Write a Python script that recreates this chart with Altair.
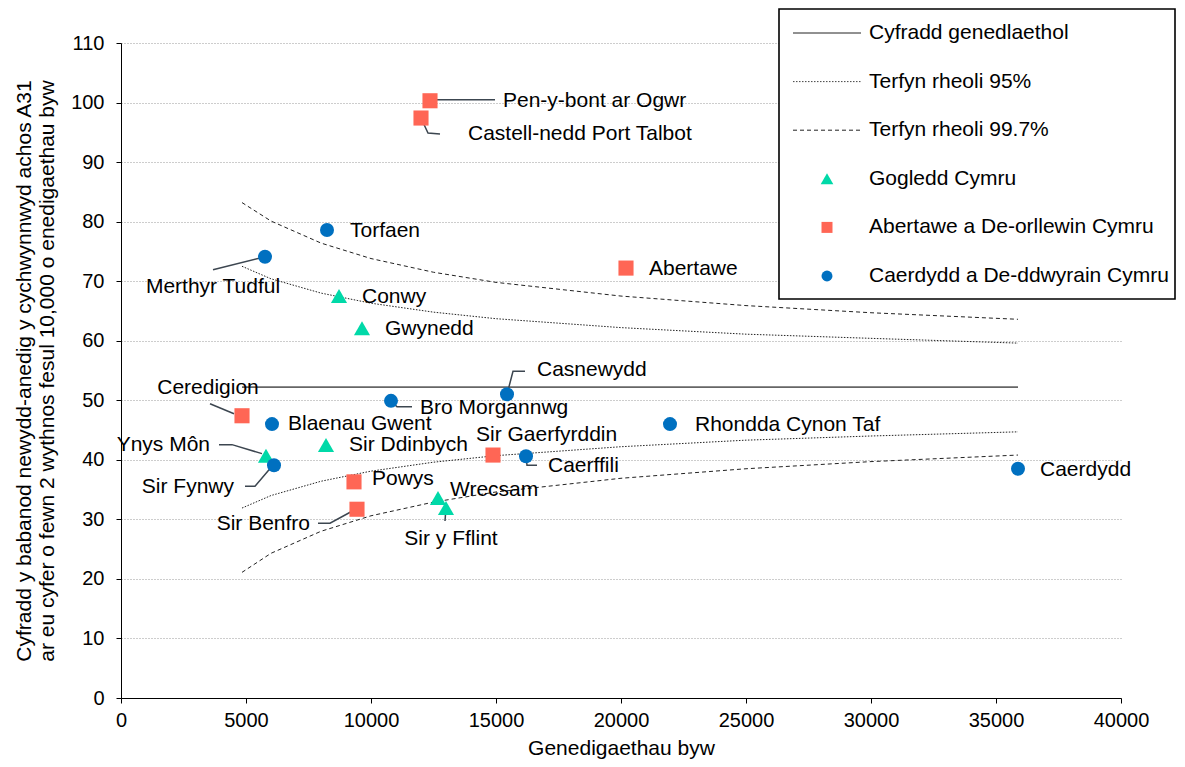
import altair as alt
import pandas as pd

# ---------------- data ----------------
names = ["Pen-y-bont ar Ogwr", "Castell-nedd Port Talbot", "Torfaen", "Merthyr Tudful",
         "Abertawe", "Conwy", "Gwynedd", "Casnewydd", "Ceredigion", "Bro Morgannwg",
         "Blaenau Gwent", "Rhondda Cynon Taf", "Sir Ddinbych", "Ynys Môn", "Sir Fynwy",
         "Sir Gaerfyrddin", "Caerffili", "Caerdydd", "Powys", "Sir Benfro", "Wrecsam",
         "Sir y Fflint"]
births = [12360, 12000, 8240, 5760, 20200, 8720, 9640, 15440, 4840, 10800,
          6040, 21960, 8200, 5800, 6120, 14880, 16200, 35880, 9320, 9440, 12680, 13000]
rates = [100.3, 97.4, 78.6, 74.1, 72.2, 67.5, 62.1, 51.0, 47.4, 49.9,
         46.0, 46.0, 42.5, 40.7, 39.1, 40.8, 40.6, 38.5, 36.3, 31.7, 33.6, 31.9]
N = "Gogledd Cymru"
S = "Abertawe a De-orllewin Cymru"
C = "Caerdydd a De-ddwyrain Cymru"
regions = [S, S, C, C, S, N, N, C, S, C, C, C, N, N, C, S, C, C, S, S, N, N]

region_order = [N, S, C]
region_colors = ["#00D9A8", "#FF6655", "#0070C0"]
region_shapes = ["triangle-up", "square", "circle"]
region_sizes = [260, 196, 165]

nat_rate = 52.2
limit_births = [4840, 6000, 8000, 10000, 12500, 15000, 20000, 25000, 30000, 35880]
upper95 = [72.5, 70.4, 68.0, 66.3, 64.8, 63.7, 62.2, 61.1, 60.4, 59.6]
lower95 = [31.9, 34.0, 36.4, 38.1, 39.6, 40.7, 42.2, 43.3, 44.0, 44.7]
upper997 = [83.2, 80.1, 76.4, 73.8, 71.5, 69.8, 67.5, 65.9, 64.7, 63.6]
lower997 = [21.1, 24.3, 28.0, 30.6, 32.9, 34.6, 36.9, 38.5, 39.7, 40.8]

legend_labels = ["Cyfradd genedlaethol", "Terfyn rheoli 95%", "Terfyn rheoli 99.7%",
                 N, S, C]

x_title = "Genedigaethau byw"
y_title = ["Cyfradd y babanod newydd-anedig y cychwynnwyd achos A31",
           "ar eu cyfer o fewn 2 wythnos fesul 10,000 o enedigaethau byw"]

# ---------------- layout (annotation placement) ----------------
W, H = 1000, 655
XMAX, YMAX = 40000, 110
XU = XMAX / W   # data units per pixel
YU = YMAX / H

# label offsets in pixels from the marker: (dx, dy, align)
label_pos = {
    "Pen-y-bont ar Ogwr": (73, 0, "left"),
    "Castell-nedd Port Talbot": (47, 16, "left"),
    "Torfaen": (23, 1, "left"),
    "Merthyr Tudful": (-52, 30, "center"),
    "Abertawe": (23, 1, "left"),
    "Conwy": (23, 1, "left"),
    "Gwynedd": (23, 1, "left"),
    "Casnewydd": (30, -24, "left"),
    "Ceredigion": (-34, -28, "center"),
    "Bro Morgannwg": (29, 7, "left"),
    "Blaenau Gwent": (16, 0, "left"),
    "Rhondda Cynon Taf": (25, 1, "left"),
    "Sir Ddinbych": (23, 0, "left"),
    "Ynys Môn": (-56, -11, "right"),
    "Sir Fynwy": (-40, 22, "right"),
    "Sir Gaerfyrddin": (-17, -20, "left"),
    "Caerffili": (22, 10, "left"),
    "Caerdydd": (22, 1, "left"),
    "Powys": (18, -3, "left"),
    "Sir Benfro": (-47, 15, "right"),
    "Wrecsam": (12, -8, "left"),
    "Sir y Fflint": (5, 31, "center"),
}
# leader-line paths in pixel offsets from the marker
leaders = {
    "Pen-y-bont ar Ogwr": [(0, -1), (65, -1)],
    "Castell-nedd Port Talbot": [(0, 0), (7, 15), (19, 16)],
    "Merthyr Tudful": [(0, 0), (-52, 13)],
    "Casnewydd": [(0, 0), (6, -23), (18, -23)],
    "Ceredigion": [(-8, -2), (-32, -12)],
    "Bro Morgannwg": [(0, 0), (6, 6), (21, 6)],
    "Ynys Môn": [(-4, -2), (-34, -11), (-47, -11)],
    "Sir Fynwy": [(-2, 1), (-19, 21), (-29, 21)],
    "Sir Benfro": [(-5, 2), (-27, 14), (-39, 14)],
    "Sir y Fflint": [(0, 0), (-1, 13)],
    "Caerffili": [(0, 0), (1, 9), (11, 9)],
}

FONT = "Liberation Sans"

pts = pd.DataFrame({"name": names, "x": births, "y": rates, "region": regions})

lab_rows = []
for n, bx, r in zip(names, births, rates):
    dx, dy, al = label_pos[n]
    lab_rows.append({"name": n, "x": bx + dx * XU, "y": r - dy * YU, "align": al})
labs = pd.DataFrame(lab_rows)

lead_rows = []
for n, path in leaders.items():
    i = names.index(n)
    for k, (dx, dy) in enumerate(path):
        lead_rows.append({"name": n, "seq": k, "x": births[i] + dx * XU, "y": rates[i] - dy * YU})
leads = pd.DataFrame(lead_rows)

xs = alt.Scale(domain=[0, XMAX], nice=False, zero=True)
ys = alt.Scale(domain=[0, YMAX], nice=False, zero=True)

x_axis = alt.Axis(title=x_title, values=list(range(0, 40001, 5000)), format="d",
                  grid=False, domainColor="black", tickColor="black", tickSize=5,
                  labelFontSize=20, labelColor="black", labelPadding=7,
                  titleFontSize=21, titleFontWeight="normal", titleColor="black",
                  titlePadding=7, labelFont=FONT, titleFont=FONT, labelFlush=False)
y_axis = alt.Axis(title=y_title, values=list(range(0, 111, 10)), grid=True,
                  gridColor="#9a9a9a", gridDash=[1, 2], gridWidth=1,
                  domainColor="black", tickColor="black", tickSize=5,
                  labelFontSize=20, labelColor="black", labelPadding=12,
                  titleFontSize=21, titleFontWeight="normal", titleColor="black",
                  titlePadding=13, titleLineHeight=23, labelFont=FONT, titleFont=FONT)


def X():
    return alt.X("x:Q", scale=xs, axis=x_axis)


def Y():
    return alt.Y("y:Q", scale=ys, axis=y_axis)


# national rate
nat_df = pd.DataFrame({"x": [limit_births[0], limit_births[-1]], "y": [nat_rate, nat_rate]})
base = alt.Chart(nat_df).mark_line(color="#666666", strokeWidth=1.6).encode(x=X(), y=Y())

lim_layers = []
for vals, dash in [(upper95, [1.5, 1.5]), (lower95, [1.5, 1.5]),
                   (upper997, [4, 3]), (lower997, [4, 3])]:
    d = pd.DataFrame({"x": limit_births, "y": vals})
    lim_layers.append(alt.Chart(d).mark_line(color="#222222", strokeWidth=1,
                                             strokeDash=dash).encode(x=X(), y=Y()))

lead_layer = alt.Chart(leads).mark_line(color="#3C4650", strokeWidth=1.5).encode(
    x=X(), y=Y(), detail="name:N", order="seq:Q")

point_layer = alt.Chart(pts).mark_point(filled=True, opacity=1).encode(
    x=X(), y=Y(),
    color=alt.Color("region:N", scale=alt.Scale(domain=region_order, range=region_colors), legend=None),
    shape=alt.Shape("region:N", scale=alt.Scale(domain=region_order, range=region_shapes), legend=None),
    size=alt.Size("region:N", scale=alt.Scale(domain=region_order, range=region_sizes), legend=None),
)

text_layers = []
for al in ["left", "center", "right"]:
    text_layers.append(
        alt.Chart(labs).transform_filter(alt.datum.align == al).mark_text(
            align=al, baseline="middle", fontSize=21, font=FONT, color="black"
        ).encode(x=X(), y=Y(), text="name:N"))

# ---------------- manual legend (pixel placement) ----------------
one = pd.DataFrame({"k": [0]})
LX0, LX1, LY0, LY1 = 658, 1054, -34, 256
leg_box = alt.Chart(one).mark_rect(fill="white", stroke="black", strokeWidth=1.6).encode(
    x=alt.value(LX0), x2=alt.value(LX1), y=alt.value(LY0), y2=alt.value(LY1))

row_y = [-10 + i * 48.6 for i in range(6)]
leg_lines = []
for i, (col, dash, sw) in enumerate([("#222222", None, 1), ("#444444", [1.5, 1.5], 1),
                                     ("#222222", [4, 3], 1)]):
    kw = dict(color=col, strokeWidth=sw)
    if dash:
        kw["strokeDash"] = dash
    leg_lines.append(alt.Chart(one).mark_rule(**kw).encode(
        x=alt.value(672), x2=alt.value(740), y=alt.value(row_y[i])))

leg_syms = []
for j in range(3):
    leg_syms.append(alt.Chart(one).mark_point(
        filled=True, opacity=1, shape=region_shapes[j], color=region_colors[j],
        size=[160, 121, 120][j]).encode(x=alt.value(706), y=alt.value(row_y[3 + j])))

leg_text_df = pd.DataFrame({"label": legend_labels, "py": row_y})
leg_text = alt.Chart(leg_text_df).mark_text(
    align="left", baseline="middle", fontSize=21, font=FONT, color="black").encode(
    x=alt.value(748), y=alt.Y("py:Q", scale=None), text="label:N")

chart = alt.layer(
    base, *lim_layers, lead_layer, point_layer, *text_layers,
    leg_box, *leg_lines, *leg_syms, leg_text
).properties(
    width=W, height=H,
    autosize=alt.AutoSizeParams(type="none"),
    padding={"left": 113, "top": 35, "right": 56, "bottom": 61},
).configure(font=FONT).configure_view(stroke=None)

chart.save("out.html", embed_options={"renderer": "svg", "actions": False})
